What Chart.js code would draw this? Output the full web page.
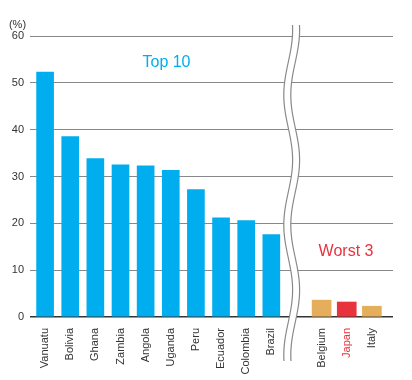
<!DOCTYPE html>
<html>
<head>
<meta charset="utf-8">
<script src="https://cdn.jsdelivr.net/npm/chart.js@4.4.0/dist/chart.umd.min.js"></script>
<style>
  html, body { margin: 0; padding: 0; background: #fff; }
</style>
</head>
<body>
<canvas id="myChart" width="412" height="380"></canvas>
<script>
let topCountries = ['Vanuatu', 'Bolivia', 'Ghana', 'Zambia', 'Angola', 'Uganda', 'Peru', 'Ecuador', 'Colombia', 'Brazil'];
let topValues = [52.3, 38.5, 33.8, 32.5, 32.3, 31.3, 27.2, 21.2, 20.6, 17.6];
let worstCountries = ['Belgium', 'Japan', 'Italy'];
let worstValues = [3.6, 3.2, 2.3];
let yTicks = [0, 10, 20, 30, 40, 50, 60];

const cyan = '#00aeef';
const red = '#e8323c';
const tan = '#e5ae5c';
const textColor = '#333';
const fontFamily = '"Liberation Sans", Arial, sans-serif';

// one empty slot between the two groups, where the break goes
let allLabels = topCountries.concat([''], worstCountries);
let gapIndex = topCountries.length;

// wavy axis break + the two group titles
const extras = {
  id: 'extras',
  afterDraw(chart) {
    const ctx = chart.ctx;
    const top = 25, bottom = 362;
    const waveX = y => 288.2 + 4.4 * Math.cos(2 * Math.PI * (y - 30) / 130);
    const gap = 7;

    ctx.save();
    ctx.beginPath();
    for (let y = top; y <= bottom; y += 2) {
      if (y === top) ctx.moveTo(waveX(y), y);
      else ctx.lineTo(waveX(y), y);
    }
    for (let y = bottom; y >= top; y -= 2) {
      ctx.lineTo(waveX(y) + gap, y);
    }
    ctx.closePath();
    ctx.fillStyle = '#fff';
    ctx.fill();

    ctx.strokeStyle = '#888';
    ctx.lineWidth = 1.2;
    [0, gap].forEach(dx => {
      ctx.beginPath();
      for (let y = top; y <= bottom; y += 2) {
        if (y === top) ctx.moveTo(waveX(y) + dx, y);
        else ctx.lineTo(waveX(y) + dx, y);
      }
      ctx.stroke();
    });

    ctx.textAlign = 'center';
    ctx.textBaseline = 'alphabetic';
    ctx.font = '16px ' + fontFamily;
    ctx.fillStyle = cyan;
    ctx.fillText('Top 10', 166.5, 67);
    ctx.fillStyle = red;
    ctx.fillText('Worst 3', 346, 256);

    ctx.font = '11px ' + fontFamily;
    ctx.fillStyle = textColor;
    ctx.fillText('(%)', 17.5, 28);
    ctx.restore();
  }
};

new Chart(document.getElementById('myChart'), {
  type: 'bar',
  data: {
    datasets: [{
      data: topValues.map((v, i) => ({ x: i, y: v })),
      backgroundColor: cyan,
      barThickness: 17,
      grouped: false
    },
    {
      data: worstValues.map((v, i) => ({ x: gapIndex + 1 + i, y: v })),
      backgroundColor: worstCountries.map(c => c === 'Japan' ? red : tan),
      barThickness: 19,
      grouped: false
    }]
  },
  options: {
    responsive: false,
    animation: false,
    layout: { padding: { top: 36, right: 19, left: 0, bottom: 0 } },
    plugins: {
      legend: { display: false },
      tooltip: { enabled: false }
    },
    scales: {
      x: {
        type: 'linear',
        offset: false,
        min: -0.6,
        max: 13.84,
        afterBuildTicks: s => { s.ticks = allLabels.map((l, i) => ({ value: i })); },
        afterFit: s => { s.height = 63; },
        grid: { display: false },
        border: { display: false },
        ticks: {
          autoSkip: false,
          maxRotation: 90,
          minRotation: 90,
          padding: 3,
          font: { family: fontFamily, size: 11 },
          color: c => allLabels[c.tick.value] === 'Japan' ? red : textColor,
          callback: v => allLabels[v] || ''
        }
      },
      y: {
        min: 0,
        max: 60,
        afterBuildTicks: s => { s.ticks = yTicks.map(v => ({ value: v })); },
        afterFit: s => { s.width = 30; },
        border: { display: false },
        grid: {
          drawTicks: false,
          color: c => c.tick.value === 0 ? '#333' : '#888',
          lineWidth: c => c.tick.value === 0 ? 1.5 : 1
        },
        ticks: {
          padding: 6,
          font: { family: fontFamily, size: 11 },
          color: textColor
        }
      }
    }
  },
  plugins: [extras]
});
</script>
</body>
</html>
